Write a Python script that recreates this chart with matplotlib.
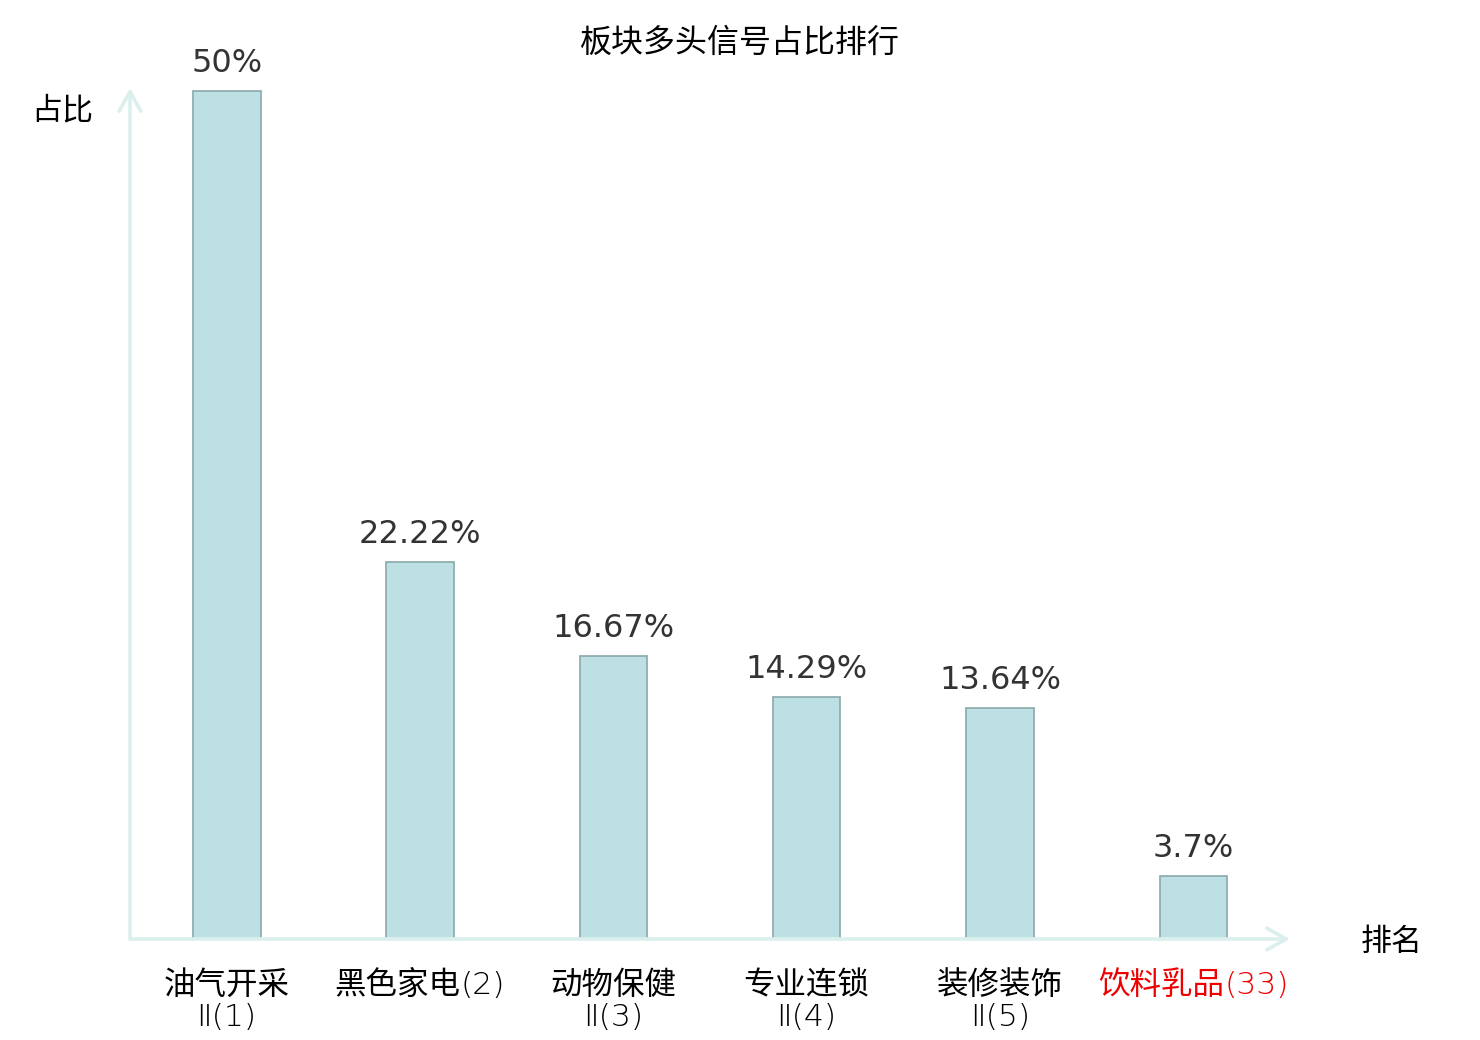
import re
import matplotlib
matplotlib.use("Agg")
import matplotlib.pyplot as plt
import matplotlib.transforms as mtransforms
from matplotlib import font_manager

categories = ["油气开采\nⅡ(1)", "黑色家电(2)", "动物保健\nⅡ(3)", "专业连锁\nⅡ(4)", "装修装饰\nⅡ(5)", "饮料乳品(33)"]
values = [50, 22.22, 16.67, 14.29, 13.64, 3.7]
value_labels = ["50%", "22.22%", "16.67%", "14.29%", "13.64%", "3.7%"]
label_colors = ["#000000", "#000000", "#000000", "#000000", "#000000", "#ee0000"]
title = "板块多头信号占比排行"
ylabel = "占比"
xlabel = "排名"

CJK = ['Noto Sans CJK SC', 'DejaVu Sans']
plt.rcParams['font.family'] = CJK

# pick a light font for the digits / brackets if one is installed
light_family, light_weight = 'Noto Sans CJK SC', 'normal'
avail = {}
for f in font_manager.fontManager.ttflist:
    w = f.weight if isinstance(f.weight, int) else 400
    avail.setdefault(f.name, set()).add(w)
for fam, lo, hi in [('DejaVu Sans', 150, 350), ('Noto Sans CJK SC', 250, 350), ('Noto Sans CJK JP', 250, 350),
                    ('Noto Sans', 250, 350), ('Open Sans', 250, 350), ('Lato', 250, 350), ('Roboto', 250, 350)]:
    ws = [w for w in avail.get(fam, set()) if lo <= w <= hi]
    if ws:
        light_family, light_weight = fam, min(ws)
        break
LIGHT = [light_family, 'DejaVu Sans', 'Noto Sans CJK SC']

DPI = 100
W, H = 1480, 1040
fig = plt.figure(figsize=(W / DPI, H / DPI), dpi=DPI)
px = lambda p: p * 72 / DPI

left, right, top, bottom = 130, 1290, 88, 939
ax = fig.add_axes([left / W, (H - bottom) / H, (right - left) / W, (bottom - top) / H])
ax.set_xlim(-0.5, 5.5)
ax.set_ylim(0, (bottom - top) / 16.96)
for s in ax.spines.values():
    s.set_visible(False)
ax.set_yticks([])
ax.set_xticks([])

xs = list(range(len(categories)))
ax.bar(xs, values, width=0.35, color="#bce0e3", edgecolor="#8aa9aa", linewidth=1.2, zorder=3)

for x, v, lab in zip(xs, values, value_labels):
    ax.annotate(lab, (x, v), xytext=(0, px(12)), textcoords="offset points",
                ha="center", va="bottom", fontsize=px(32), color="#333333",
                family=['DejaVu Sans'])

# category labels: CJK part regular, numbering part light
renderer = fig.canvas.get_renderer()
tick_fs = px(31.5)
line_centers = [985, 1017]  # pixel rows from top of image
base = ax.get_xaxis_transform()
for x, cat, col in zip(xs, categories, label_colors):
    for li, line in enumerate(cat.split("\n")):
        segs = re.findall(r"[\u4e00-\u9fff]+|[^\u4e00-\u9fff]+", line)
        texts = []
        for sg in segs:
            is_cjk = bool(re.match(r"[\u4e00-\u9fff]", sg))
            t = ax.text(x, 0, sg, fontsize=tick_fs, color=col, ha="left", va="center",
                        family=CJK if is_cjk else LIGHT,
                        weight='normal' if is_cjk else light_weight)
            texts.append(t)
        widths = [t.get_window_extent(renderer).width for t in texts]
        total = sum(widths)
        cur = -total / 2
        yoff = (bottom - line_centers[li])
        for t, w in zip(texts, widths):
            t.set_transform(mtransforms.offset_copy(base, fig=fig, x=cur, y=yoff, units='dots'))
            t.set_clip_on(False)
            cur += w

axis_col = "#dbf0ed"
arrow_style = "->,head_length=1.4,head_width=0.78"
ax.annotate("", xy=(1.0, 0), xytext=(0, 0), xycoords="axes fraction",
            arrowprops=dict(arrowstyle=arrow_style, color=axis_col, lw=2.6,
                            shrinkA=0, shrinkB=0), annotation_clip=False)
ax.annotate("", xy=(0, 1.0), xytext=(0, 0), xycoords="axes fraction",
            arrowprops=dict(arrowstyle=arrow_style, color=axis_col, lw=2.6,
                            shrinkA=0, shrinkB=0), annotation_clip=False)

fig.text(740 / W, 1 - 43 / H, title, ha="center", va="center", fontsize=px(32), color="#000000")
fig.text(62 / W, 1 - 111 / H, ylabel, ha="center", va="center", fontsize=px(31), color="#000000")
fig.text(1392 / W, 1 - 942 / H, xlabel, ha="center", va="center", fontsize=px(31), color="#000000")

fig.savefig("out.png", dpi=DPI)
